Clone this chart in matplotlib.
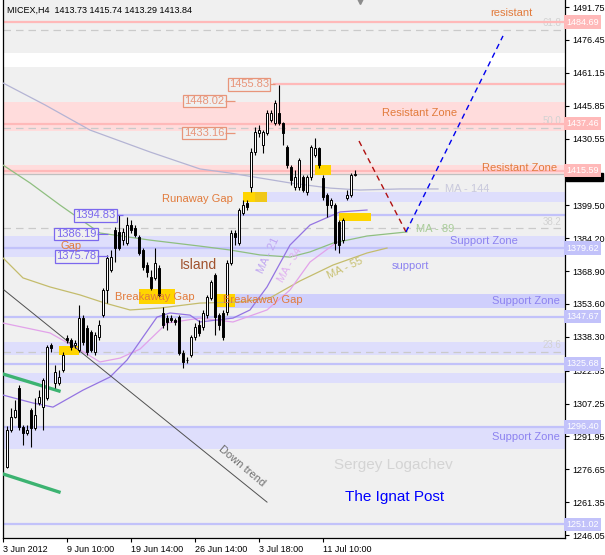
import matplotlib

matplotlib.use('Agg')

import matplotlib.pyplot as plt
import matplotlib.transforms as mtransforms
import numpy as np

plt.rcParams['font.family'] = ['Liberation Sans', 'DejaVu Sans']

title = 'MICEX,H4  1413.73 1415.74 1413.29 1413.84'

# H4 candles
opens = [1277.7, 1294.9, 1301.0, 1314.5, 1296.3, 1293.5, 1304.2, 1295.9, 1307.5, 1305.6,
         1309.8, 1334.5, 1316.8, 1316.8, 1322.9, 1337.7, 1336.8, 1334.5, 1332.2, 1347.0,
         1342.4, 1340.5, 1331.2, 1338.2, 1348.4, 1360.1, 1369.4, 1388.0, 1387.1, 1383.3,
         1381.9, 1390.3, 1388.9, 1384.7, 1378.7, 1371.7, 1366.1, 1365.7, 1370.3, 1349.4,
         1347.0, 1347.0, 1346.1, 1347.5, 1330.8, 1327.5, 1329.8, 1338.2, 1343.8, 1342.9,
         1348.4, 1356.4, 1367.1, 1348.4, 1349.4, 1349.8, 1372.6, 1386.6, 1381.9, 1395.9,
         1400.6, 1408.0, 1424.3, 1433.1, 1427.5, 1433.1, 1439.2, 1437.8, 1442.4, 1437.8,
         1426.6, 1417.3, 1408.0, 1408.0, 1412.7, 1405.7, 1412.7, 1422.9, 1426.2, 1412.2,
         1404.3, 1399.6, 1399.6, 1391.7, 1383.3, 1402.9, 1404.3, 1413.73]
highs = [1296.8, 1305.2, 1308.9, 1315.9, 1297.3, 1297.3, 1305.2, 1309.8, 1313.5, 1319.1,
         1334.5, 1335.4, 1325.2, 1322.9, 1331.2, 1339.1, 1337.7, 1336.8, 1353.1, 1348.4,
         1343.8, 1341.5, 1340.5, 1346.1, 1361.0, 1376.4, 1378.7, 1389.4, 1395.0, 1388.9,
         1394.0, 1392.6, 1390.3, 1385.7, 1379.6, 1373.1, 1369.4, 1379.6, 1371.7, 1352.2,
         1348.4, 1348.4, 1347.0, 1348.4, 1332.2, 1328.9, 1339.1, 1344.7, 1346.1, 1350.8,
         1357.8, 1364.7, 1368.0, 1349.4, 1350.8, 1374.0, 1388.0, 1388.0, 1398.2, 1402.0,
         1402.0, 1426.2, 1435.9, 1436.9, 1434.5, 1443.8, 1443.8, 1448.5, 1455.5, 1438.2,
         1427.5, 1418.2, 1415.9, 1421.5, 1413.6, 1413.6, 1427.5, 1430.8, 1426.6, 1413.6,
         1405.2, 1402.9, 1400.6, 1392.6, 1393.6, 1406.6, 1414.5, 1415.74]
lows = [1277.3, 1294.0, 1300.5, 1294.9, 1288.0, 1292.6, 1287.0, 1294.9, 1306.6, 1294.9,
        1308.9, 1331.2, 1314.5, 1315.9, 1321.9, 1335.4, 1332.2, 1333.1, 1331.2, 1334.5,
        1329.8, 1331.2, 1329.8, 1336.8, 1347.5, 1354.0, 1368.5, 1373.1, 1378.7, 1381.0,
        1381.0, 1386.6, 1384.7, 1376.4, 1369.4, 1366.1, 1360.1, 1364.7, 1356.8, 1342.4,
        1341.5, 1345.2, 1343.8, 1329.8, 1323.8, 1326.1, 1328.9, 1336.8, 1338.7, 1341.5,
        1347.0, 1355.4, 1339.1, 1341.5, 1336.8, 1348.4, 1371.7, 1381.0, 1381.0, 1395.0,
        1397.3, 1405.7, 1422.9, 1431.3, 1423.8, 1432.2, 1438.2, 1436.9, 1436.9, 1427.5,
        1416.8, 1408.9, 1406.6, 1406.6, 1405.7, 1404.3, 1411.3, 1422.0, 1416.8, 1402.0,
        1394.0, 1398.2, 1378.7, 1377.3, 1381.9, 1402.0, 1403.4, 1413.29]
closes = [1294.9, 1301.0, 1304.2, 1296.3, 1293.5, 1294.9, 1295.9, 1301.9, 1310.3, 1318.2,
          1333.5, 1333.1, 1321.9, 1319.6, 1329.8, 1336.8, 1333.5, 1335.4, 1347.0, 1335.9,
          1331.2, 1332.2, 1339.1, 1343.8, 1360.1, 1375.0, 1375.4, 1379.6, 1379.6, 1387.1,
          1390.3, 1388.0, 1385.7, 1377.3, 1370.8, 1368.5, 1361.0, 1372.6, 1357.8, 1343.8,
          1345.2, 1346.1, 1345.2, 1330.8, 1326.6, 1327.3, 1338.2, 1342.9, 1340.1, 1349.4,
          1356.8, 1363.8, 1347.5, 1343.8, 1338.2, 1372.6, 1386.6, 1384.7, 1397.3, 1399.6,
          1398.7, 1424.3, 1433.6, 1434.5, 1433.6, 1442.4, 1442.4, 1447.1, 1437.8, 1433.1,
          1418.2, 1411.3, 1412.7, 1420.6, 1406.6, 1412.7, 1426.6, 1426.2, 1418.2, 1403.4,
          1399.6, 1402.0, 1381.9, 1381.0, 1392.6, 1404.3, 1413.6, 1413.84]

date_ticks = [-1, 15, 31, 47, 63, 79]
date_labels = ['3 Jun 2012', '9 Jun 10:00', '19 Jun 14:00', '26 Jun 14:00',
               '3 Jul 18:00', '11 Jul 10:00']
price_ticks = [1491.75, 1476.45, 1461.15, 1445.85, 1430.55, 1399.50, 1384.20,
               1368.90, 1353.60, 1338.30, 1322.55, 1307.25, 1291.95, 1276.65, 1261.35,
               1246.05]

# moving averages (bar index, price)
ma144_x = [-1, 9.5, 20.75, 35.75, 48.25, 55.75, 63.25, 70.75, 80.75, 88.25, 98.25, 107.75]
ma144_y = [1456.4, 1446.2, 1434.5, 1424.3, 1416.4, 1414.5, 1412.2, 1409.9, 1407.5, 1406.6,
           1407.1, 1407.1]
ma89_x = [-1, 5.75, 13.25, 23.25, 35.75, 48.25, 55.75, 63.25, 70.75, 75.75, 81.5, 90, 100]
ma89_y = [1418.2, 1409.9, 1399.6, 1386.6, 1383.3, 1380.5, 1378.7, 1376.4, 1375.4, 1377.8,
          1381.9, 1385.2, 1387.1]
ma55_x = [-1, 4, 10.75, 18.25, 24.5, 30.75, 38.25, 48.25, 58.25, 65.75, 73.25, 81.5, 90, 95]
ma55_y = [1375.0, 1365.7, 1361.5, 1357.8, 1354.0, 1350.8, 1351.7, 1354.0, 1354.5, 1356.4,
          1364.3, 1371.7, 1377.3, 1379.6]
ma34_x = [-1, 10.75, 18.25, 23.25, 28.25, 33.25, 40, 48.25, 56.5, 65, 70.75, 75.75, 82.5]
ma34_y = [1344.7, 1340.1, 1332.2, 1326.6, 1328.4, 1332.6, 1344.7, 1347.0, 1345.2, 1350.8,
          1360.1, 1373.1, 1382.4]
ma21_x = [-1, 6.5, 11.5, 19, 25.75, 30, 34, 37.5, 40.75, 45.75, 48.25, 56.5, 60.75, 65,
          70.75, 75.75, 83.25, 90]
ma21_y = [1311.2, 1307.5, 1305.6, 1313.5, 1319.6, 1327.5, 1338.2, 1347.5, 1349.4, 1348.4,
          1345.2, 1347.0, 1350.8, 1361.5, 1381.0, 1390.3, 1396.4, 1397.3]

# horizontal levels
resist_levels = [1484.69, 1437.46, 1415.59]
support_levels = [1379.62, 1347.67, 1325.68, 1296.40, 1251.02]
bid = 1413.84
fibo_levels = [1481.1, 1435.4, 1388.7, 1331.2]
fibo_labels = ['61.8', '50.0', '38.2', '23.6']

# zones (low, high)
resist_zones = [(1434.1, 1447.5), (1413.6, 1418.2)]
support_zones = [(1375.4, 1385.2), (1329.8, 1335.9), (1316.8, 1321.4), (1286.1, 1296.8)]
white_band = (1463.8, 1470.3)

# gaps (x0, x1, low, high)
gaps = [(13, 18, 1329.8, 1334.0), (33, 42, 1353.6, 1360.5), (52.5, 57, 1352.2, 1358.2),
        (59, 62, 1401.0, 1405.7), (62, 65, 1401.0, 1405.7), (77, 81, 1413.6, 1418.2),
        (83, 91, 1392.2, 1395.9)]

# trend lines
downtrend_x = [-0.75, 65]
downtrend_y = [1360.1, 1261.4]
green1_x = [-1, 13]
green1_y = [1321.0, 1313.1]
green2_x = [-1, 13]
green2_y = [1274.5, 1266.1]
fall_x = [88, 99.75]
fall_y = [1429.4, 1387.1]
rise_x = [99.75, 124]
rise_y = [1387.1, 1478.3]

PINK_LINE = '#FFB9B9'
PINK_ZONE = '#FFDCDC'
LAV_LINE = '#C2C2FA'
LAV_ZONE = '#DEDEFC'
ORANGE = '#E27B3C'
SALMON = '#E8957A'
SLATE = '#7B68EE'
SUPPORT_TXT = '#8C82F0'


def main():
  fig = plt.figure(figsize=(6.05, 5.55), dpi=100)
  ax = fig.add_axes([3 / 605, 17 / 555, 562 / 605, 538 / 555])
  ax.set_facecolor('#F0F0F0')
  ax.set_xlim(-1, 139.5)
  ax.set_ylim(1244.7, 1495.01)
  xmax = 139.5

  # zones
  ax.axhspan(*white_band, color='white', lw=0, zorder=0.5)
  for lo, hi in resist_zones:
    ax.axhspan(lo, hi, color=PINK_ZONE, lw=0, zorder=0.6)
  for lo, hi in support_zones:
    ax.axhspan(lo, hi, color=LAV_ZONE, lw=0, zorder=0.6)
  ax.fill_between([59, xmax], 1401.0, 1405.7, color=LAV_ZONE, lw=0, zorder=0.6)
  ax.fill_between([52.5, xmax], 1351.7, 1358.2, color='#CFCFFC', lw=0, zorder=0.6)

  # fibo levels
  for lvl, lab in zip(fibo_levels, fibo_labels):
    ax.axhline(lvl, color='#CACACA', lw=0.9, dashes=(6, 4), zorder=0.8)
    ax.text(138.5, lvl + 0.8, lab, color='#D2D2D2', fontsize=7, ha='right', va='bottom',
            zorder=1)

  for lvl in resist_levels:
    ax.axhline(lvl, color=PINK_LINE, lw=1.6, zorder=1)
  for lvl in support_levels:
    ax.axhline(lvl, color=LAV_LINE, lw=1.6, zorder=1)
  ax.axhline(bid, color='#C0C0C0', lw=0.9, zorder=1)
  ax.hlines(1455.83, 66.5, xmax, color=PINK_LINE, lw=1.6, zorder=1)
  ax.hlines(1394.83, 27.5, xmax, color=LAV_LINE, lw=1.6, zorder=1)

  # gap boxes
  for k, (x0, x1, lo, hi) in enumerate(gaps):
    col = '#F0C818' if k == 4 else '#FFD500'
    ax.fill_between([x0, x1], lo, hi, color=col, lw=0, zorder=2)

  # moving averages
  ax.plot(ma144_x, ma144_y, color='#B4B4D4', lw=0.9, zorder=3)
  ax.plot(ma89_x, ma89_y, color='#8FBF80', lw=0.9, zorder=3)
  ax.plot(ma55_x, ma55_y, color='#C4BC6C', lw=0.9, zorder=3)
  ax.plot(ma34_x, ma34_y, color='#E2A2EA', lw=0.9, zorder=3)
  ax.plot(ma21_x, ma21_y, color='#9474E2', lw=0.9, zorder=3)

  # trend lines
  ax.plot(downtrend_x, downtrend_y, color='#505050', lw=0.7, zorder=3)
  ax.plot(green1_x, green1_y, color='#3CB371', lw=2.4, zorder=3)
  ax.plot(green2_x, green2_y, color='#3CB371', lw=2.4, zorder=3)
  ax.plot(fall_x, fall_y, color='#B01010', lw=1.0, dashes=(4, 3), zorder=3)
  ax.plot(rise_x, rise_y, color='#0000EE', lw=1.0, dashes=(4, 3), zorder=3)

  # candles
  x = np.arange(len(opens))
  o = np.array(opens)
  c = np.array(closes)
  up = c >= o
  ax.vlines(x, lows, highs, color='black', lw=0.8, zorder=5)
  body = np.maximum(np.abs(c - o), 0.35)
  ax.bar(x[up], body[up], bottom=o[up], width=0.55, color='white', edgecolor='black',
         lw=0.7, zorder=6)
  ax.bar(x[~up], body[~up], bottom=c[~up], width=0.55, color='black', edgecolor='black',
         lw=0.7, zorder=6)

  # price labels on the chart
  def box(xr, y, txt, col, x_end):
    ax.text(xr, y, txt, color=col, fontsize=8, ha='right', va='center', zorder=7,
            bbox=dict(boxstyle='square,pad=0.12', fc='#F0F0F0', ec=col, lw=0.9))
    ax.hlines(y, xr + 0.3, x_end, color=col, lw=0.9, zorder=7)

  box(65.5, 1455.83, '1455.83', SALMON, 67)
  box(54.3, 1448.02, '1448.02', SALMON, 57)
  box(54.3, 1433.16, '1433.16', SALMON, 57)
  box(27.2, 1394.83, '1394.83', SLATE, 29)
  box(22.3, 1386.19, '1386.19', SLATE, 25.3)
  box(22.3, 1375.78, '1375.78', SLATE, 25.3)

  # annotations
  ax.text(56.5, 1402.4, 'Runaway Gap', color=ORANGE, fontsize=8, ha='right', va='center',
          zorder=8)
  ax.text(16.1, 1380.5, 'Gap', color=ORANGE, fontsize=8, ha='center', va='center', zorder=8)
  ax.text(43.25, 1371.7, 'Island', color='#A0522D', fontsize=10, ha='left', va='center',
          zorder=8)
  ax.text(27, 1356.8, 'Breakaway Gap', color=ORANGE, fontsize=8, ha='left', va='center',
          zorder=8)
  ax.text(54, 1355.4, 'Breakaway Gap', color=ORANGE, fontsize=8, ha='left', va='center',
          zorder=8)
  ax.text(93.75, 1442.4, 'Resistant Zone', color=ORANGE, fontsize=8, ha='left',
          va='center', zorder=8)
  ax.text(118.75, 1416.8, 'Resistant Zone', color=ORANGE, fontsize=8, ha='left',
          va='center', zorder=8)
  ax.text(120.75, 1489.0, 'resistant', color=ORANGE, fontsize=8, ha='left', va='center',
          zorder=8)
  ax.text(110.75, 1382.9, 'Support Zone', color=SUPPORT_TXT, fontsize=8, ha='left',
          va='center', zorder=8)
  ax.text(138.25, 1355.0, 'Support Zone', color=SUPPORT_TXT, fontsize=8, ha='right',
          va='center', zorder=8)
  ax.text(138.25, 1291.7, 'Support Zone', color=SUPPORT_TXT, fontsize=8, ha='right',
          va='center', zorder=8)
  ax.text(96.25, 1371.2, 'support', color=SUPPORT_TXT, fontsize=8, ha='left', va='center',
          zorder=8)
  ax.text(81.75, 1278.6, 'Sergey Logachev', color='#D4D4D4', fontsize=11, ha='left',
          va='center', zorder=8)
  ax.text(84.5, 1263.7, 'The Ignat Post', color='#0000FF', fontsize=11, ha='left',
          va='center', zorder=8)
  ax.text(58.75, 1278.2, 'Down trend', color='#707070', fontsize=8, ha='center',
          va='center', rotation=-40, rotation_mode='anchor', zorder=8)
  ax.text(109.5, 1407.1, 'MA - 144', color='#C8C8DC', fontsize=8, ha='left', va='center',
          zorder=8)
  ax.text(102.25, 1388.4, 'MA - 89', color='#A8CC98', fontsize=8, ha='left', va='center',
          zorder=8)
  ax.text(84.5, 1370.3, 'MA - 55', color='#C8C070', fontsize=8, ha='center', va='center',
          rotation=25, rotation_mode='anchor', zorder=8)
  ax.text(70.75, 1371.7, 'MA - 34', color='#E0B0F0', fontsize=8, ha='center', va='center',
          rotation=60, rotation_mode='anchor', zorder=8)
  ax.text(65.25, 1376.4, 'MA - 21', color='#C0A6F2', fontsize=8, ha='center', va='center',
          rotation=65, rotation_mode='anchor', zorder=8)

  ax.text(0.007, 0.989, title, transform=ax.transAxes, fontsize=6.5, ha='left', va='top',
          zorder=9)
  ax.plot([88.25], [1], marker='v', color='#8C8C8C', ms=6,
          transform=mtransforms.blended_transform_factory(ax.transData, ax.transAxes),
          clip_on=False, zorder=9)

  # axes
  ax.spines['top'].set_visible(False)
  for s in ['left', 'right', 'bottom']:
    ax.spines[s].set_linewidth(0.9)
  ax.yaxis.tick_right()
  ax.set_yticks(price_ticks)
  ax.set_yticklabels(['%.2f' % p for p in price_ticks])
  ax.tick_params(axis='y', length=3, width=0.8, labelsize=6.5, pad=2)
  ax.set_xticks(date_ticks)
  ax.set_xticklabels(date_labels, ha='left')
  ax.tick_params(axis='x', length=3, width=0.8, labelsize=6.5, pad=2)

  trans = mtransforms.blended_transform_factory(ax.transAxes, ax.transData)

  def axis_label(y, txt, fc, dy=0.0):
    ax.text(1.002, y + dy, txt, transform=trans, color='white', fontsize=6.5, ha='left',
            va='center', clip_on=False, zorder=20,
            bbox=dict(boxstyle='square,pad=0.25', fc=fc, ec='none'))

  # bid price box peeks out under the 1415.59 box
  ax.add_patch(plt.Rectangle((1.002, bid - 3.2), 0.065, 4.0, transform=trans,
                             color='black', clip_on=False, zorder=19))
  for lvl in resist_levels:
    axis_label(lvl, '%.2f' % lvl, PINK_LINE)
  for lvl in support_levels:
    axis_label(lvl, '%.2f' % lvl, LAV_LINE)

  fig.savefig('out.png', dpi=100, facecolor='white')


if __name__ == '__main__':
  main()
